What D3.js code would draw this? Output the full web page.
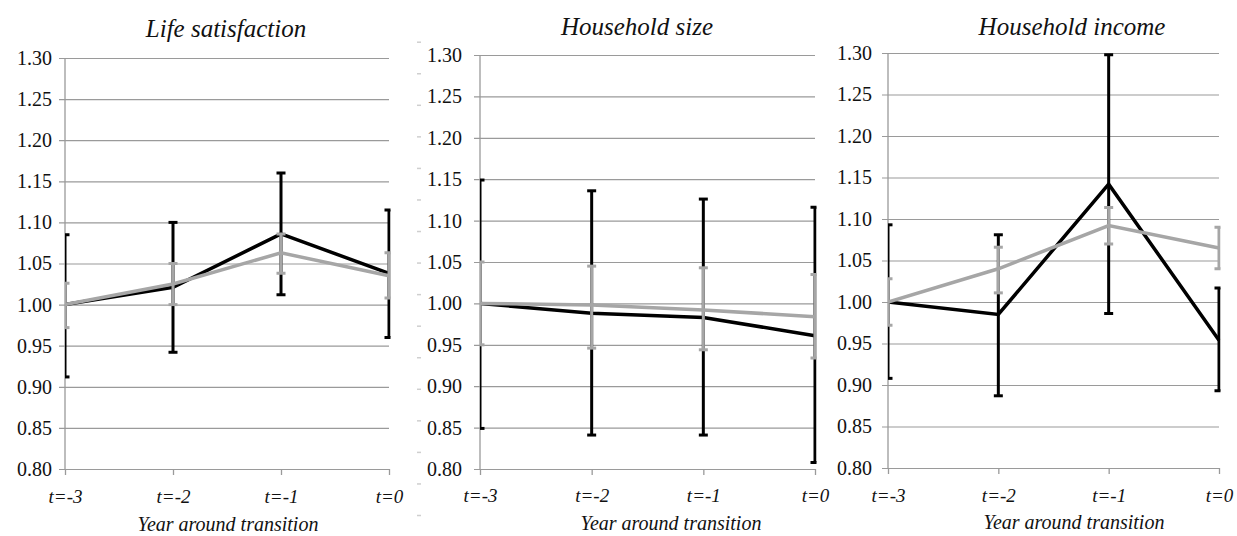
<!DOCTYPE html>
<html>
<head>
<meta charset="utf-8">
<script src="https://cdn.jsdelivr.net/npm/d3@7"></script>
</head>
<body style="margin:0">
<div id="chart"></div>
<script>
// Categories and ticks
const periods = ["t=-3", "t=-2", "t=-1", "t=0"];
const yTicks = [0.80, 0.85, 0.90, 0.95, 1.00, 1.05, 1.10, 1.15, 1.20, 1.25, 1.30];
const panelTitles = ["Life satisfaction", "Household size", "Household income"];
const xAxisTitle = "Year around transition";

// Life satisfaction
const lifeBlack = [1.000, 1.021, 1.086, 1.038];
const lifeBlackLow = [0.912, 0.942, 1.012, 0.960];
const lifeBlackHigh = [1.085, 1.100, 1.160, 1.115];
const lifeGray = [1.000, 1.025, 1.063, 1.035];
const lifeGrayLow = [0.972, 1.000, 1.038, 1.008];
const lifeGrayHigh = [1.026, 1.050, 1.086, 1.063];

// Household size
const sizeBlack = [1.000, 0.988, 0.983, 0.961];
const sizeBlackLow = [0.849, 0.841, 0.841, 0.808];
const sizeBlackHigh = [1.149, 1.136, 1.126, 1.116];
const sizeGray = [1.000, 0.998, 0.992, 0.984];
const sizeGrayLow = [0.950, 0.946, 0.944, 0.934];
const sizeGrayHigh = [1.050, 1.045, 1.043, 1.035];

// Household income
const incomeBlack = [1.000, 0.985, 1.142, 0.954];
const incomeBlackLow = [0.908, 0.887, 0.986, 0.893];
const incomeBlackHigh = [1.093, 1.081, 1.298, 1.017];
const incomeGray = [1.000, 1.040, 1.092, 1.065];
const incomeGrayLow = [0.972, 1.011, 1.070, 1.040];
const incomeGrayHigh = [1.028, 1.066, 1.114, 1.090];

const width = 1237;
const height = 536;

// Panel layout (pixel frame of each plot area)
const panels = [
    { x0: 65, x1: 389, yTop: 58, yBottom: 469, labelGap: 13, titleX: 226, titleY: 37, axisTitleX: 228, axisTitleY: 531, tickY: 503,
      series: [
        { values: lifeBlack, low: lifeBlackLow, high: lifeBlackHigh, color: "#000" },
        { values: lifeGray, low: lifeGrayLow, high: lifeGrayHigh, color: "#a6a6a6" }
      ] },
    { x0: 480, x1: 815, yTop: 55, yBottom: 469, labelGap: 18, titleX: 637, titleY: 35, axisTitleX: 671, axisTitleY: 530, tickY: 502,
      series: [
        { values: sizeBlack, low: sizeBlackLow, high: sizeBlackHigh, color: "#000" },
        { values: sizeGray, low: sizeGrayLow, high: sizeGrayHigh, color: "#a6a6a6" }
      ] },
    { x0: 888, x1: 1219, yTop: 53, yBottom: 468, labelGap: 16, titleX: 1072, titleY: 35, axisTitleX: 1074, axisTitleY: 529, tickY: 502,
      series: [
        { values: incomeBlack, low: incomeBlackLow, high: incomeBlackHigh, color: "#000" },
        { values: incomeGray, low: incomeGrayLow, high: incomeGrayHigh, color: "#a6a6a6" }
      ] }
];

const svg = d3.select("#chart")
    .append("svg")
    .attr("width", width)
    .attr("height", height)
    .attr("font-family", "Liberation Serif")
    .style("font-family", "Liberation Serif")
    .style("display", "block");

// Faint leftover tick marks left of the middle panel
const faintScale = d3.scaleLinear().domain([0, 15]).range([41.7, 515]);
svg.append("g")
    .attr("transform", "translate(421,0)")
    .call(d3.axisLeft(faintScale).tickValues(d3.range(16)).tickSize(4).tickFormat(""))
    .call(g => g.select(".domain").remove())
    .selectAll("line")
    .attr("stroke", "#cfcfcf")
    .attr("stroke-width", 1.5);

panels.forEach((p, i) => {
    const x = d3.scalePoint()
        .domain(periods)
        .range([p.x0, p.x1]);

    const y = d3.scaleLinear()
        .domain([0.80, 1.30])
        .range([p.yBottom, p.yTop]);

    const g = svg.append("g");

    // Gridlines + y tick labels
    const yAxis = g.append("g")
        .attr("transform", `translate(${p.x0},0)`)
        .call(d3.axisLeft(y)
            .tickValues(yTicks)
            .tickSize(-(p.x1 - p.x0))
            .tickSizeOuter(0)
            .tickPadding(p.labelGap)
            .tickFormat(d3.format(".2f")));
    yAxis.attr("font-family", null).attr("font-size", null);
    yAxis.select(".domain").remove();
    yAxis.selectAll(".tick line")
        .attr("x1", -6)
        .attr("stroke", "#9a9a9a")
        .attr("stroke-width", 1.2);
    yAxis.selectAll(".tick text")
        .style("font-family", "Liberation Serif")
        .style("font-size", "20px")
        .attr("fill", "#111");

    // Vertical axis line
    g.append("line")
        .attr("x1", p.x0).attr("x2", p.x0)
        .attr("y1", y(1.30)).attr("y2", y(0.80))
        .attr("stroke", "#9a9a9a")
        .attr("stroke-width", 1.3);

    // x axis ticks and labels
    const xAxis = g.append("g")
        .attr("transform", `translate(0,${p.yBottom})`)
        .call(d3.axisBottom(x).tickSize(6).tickSizeOuter(0).tickPadding(0));
    xAxis.attr("font-family", null).attr("font-size", null);
    xAxis.select(".domain").remove();
    xAxis.selectAll(".tick line")
        .attr("stroke", "#9a9a9a")
        .attr("stroke-width", 1.3);
    xAxis.selectAll(".tick text")
        .attr("dy", null)
        .attr("y", p.tickY - p.yBottom)
        .style("font-family", "Liberation Serif")
        .style("font-size", "19px")
        .style("font-style", "italic")
        .attr("fill", "#111");

    // Clip for marks
    const clipId = `clip-${i}`;
    svg.append("clipPath")
        .attr("id", clipId)
        .append("rect")
        .attr("x", p.x0)
        .attr("y", 0)
        .attr("width", p.x1 - p.x0 + 1.5)
        .attr("height", height);

    const marks = g.append("g").attr("clip-path", `url(#${clipId})`);

    const line = d3.line()
        .x((d, j) => x(periods[j]))
        .y(d => y(d));

    // Error bars first, then the series line; gray series drawn over black
    p.series.forEach(s => {
        const bars = marks.append("g");
        periods.forEach((t, j) => {
            const cx = x(t);
            bars.append("line")
                .attr("x1", cx).attr("x2", cx)
                .attr("y1", y(s.low[j])).attr("y2", y(s.high[j]))
                .attr("stroke", s.color)
                .attr("stroke-width", 3);
            [s.low[j], s.high[j]].forEach(v => {
                bars.append("line")
                    .attr("x1", cx - 4.5).attr("x2", cx + 4.5)
                    .attr("y1", y(v)).attr("y2", y(v))
                    .attr("stroke", s.color)
                    .attr("stroke-width", 3);
            });
        });

        marks.append("path")
            .datum(s.values)
            .attr("d", line)
            .attr("fill", "none")
            .attr("stroke", s.color)
            .attr("stroke-width", 3.5)
            .attr("stroke-linejoin", "miter");
    });
});

// Panel titles and x axis titles
svg.selectAll(".panel-title")
    .data(panels)
    .enter()
    .append("text")
    .attr("class", "panel-title")
    .attr("x", p => p.titleX)
    .attr("y", p => p.titleY)
    .attr("text-anchor", "middle")
    .style("font-family", "Liberation Serif")
    .style("font-size", "25px")
    .style("font-style", "italic")
    .attr("fill", "#111")
    .text((p, i) => panelTitles[i]);

svg.selectAll(".axis-title")
    .data(panels)
    .enter()
    .append("text")
    .attr("class", "axis-title")
    .attr("x", p => p.axisTitleX)
    .attr("y", p => p.axisTitleY)
    .attr("text-anchor", "middle")
    .style("font-family", "Liberation Serif")
    .style("font-size", "20px")
    .style("font-style", "italic")
    .attr("fill", "#111")
    .text(xAxisTitle);
</script>
</body>
</html>
